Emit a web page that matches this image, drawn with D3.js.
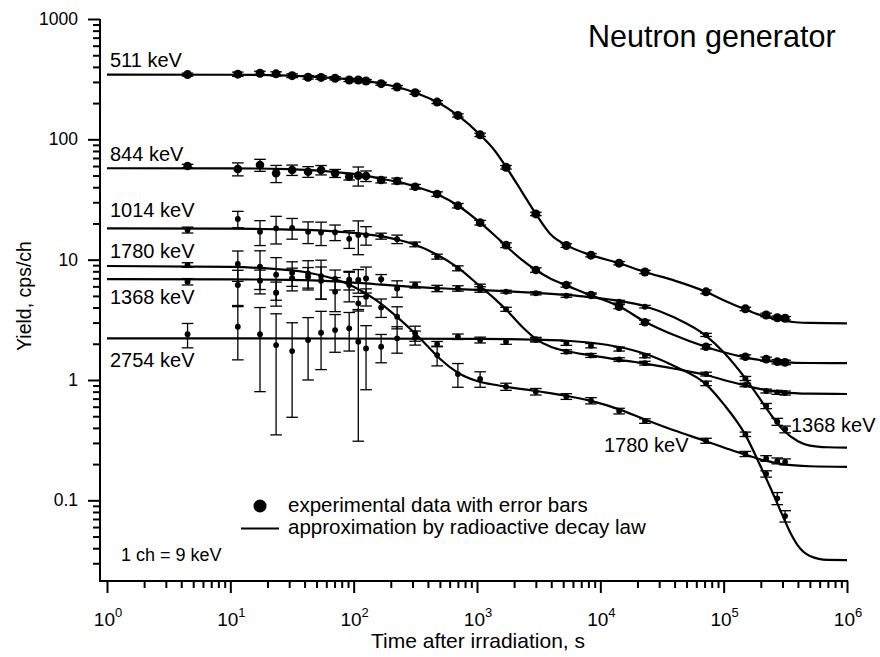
<!DOCTYPE html>
<html>
<head>
<meta charset="utf-8">
<script src="https://cdn.jsdelivr.net/npm/d3@7"></script>
<style>
  html, body { margin: 0; padding: 0; background: #fff; }
  svg text { font-family: "Liberation Sans", Arial, Helvetica, sans-serif; fill: #000; }
</style>
</head>
<body>
<svg id="chart" width="880" height="657"></svg>
<script>
// ---------------- DATA ----------------
const times = [4.5, 11.5, 17.4, 23.5, 31.7, 42.7, 54.4, 70.7, 92, 109, 126, 167, 225, 315, 475, 700, 1060, 1720, 3000, 5300, 8400, 14200, 23000, 72000, 150000, 221000, 272000, 315000];

const y511  = [345, 348, 354, 350, 338, 328, 327, 322, 311, 311, 305, 290, 272, 244, 204, 158, 109, 58.6, 24, 13.1, 10.9, 9.35, 7.9, 5.4, 3.9, 3.47, 3.29, 3.26];
const e511  = [10, 14, 14, 14, 12, 11, 11, 10, 9, 9, 9, 8, 8, 7, 6, 5, 3.5, 2, 0.8, 0.45, 0.35, 0.3, 0.25, 0.2, 0.13, 0.12, 0.11, 0.11];

const y844  = [60.0, 56.7, 61.2, 52.2, 55.6, 53.8, 55.6, 52.2, 48.9, 49.9, 49.6, 45.9, 45.1, 40.4, 35.1, 28.1, 20.3, 13.2, 8.2, 6.16, 5.09, 4.07, 3.02, 1.89, 1.56, 1.49, 1.42, 1.40];
const e844  = [2, 7, 7, 8.5, 5.5, 5.5, 5, 4, 3, 9, 5, 2.5, 2.5, 1.8, 1.5, 1.2, 0.9, 0.6, 0.35, 0.25, 0.2, 0.16, 0.12, 0.08, 0.06, 0.06, 0.06, 0.06];

const y1014 = [17.65, 21.8, 17.1, 18.2, 18.4, 17.1, 16.8, 16.9, 14.9, 16.0, 16.0, 15.7, 14.8, 13.4, 10.6, 8.48, 5.96, 3.87, 2.18, 1.72, 1.6, 1.48, 1.38, 1.12, 0.91, 0.81, 0.79, 0.78];
const e1014 = [1.0, 3.4, 4.0, 4.7, 3.6, 3.5, 3.7, 2.5, 2.5, 5, 2.8, 0.9, 1.2, 0.6, 0.5, 0.4, 0.3, 0.15, 0.08, 0.06, 0.06, 0.05, 0.05, 0.04, 0.03, 0.03, 0.03, 0.03];

const y1780 = [9.03, 9.2, 8.75, 7.5, 7.8, 7.7, 7.3, 5.4, 6.16, 4.34, 4.92, 4.01, 3.36, 2.45, 1.61, 1.12, 1.02, 0.88, 0.80, 0.73, 0.673, 0.552, 0.456, 0.313, 0.243, 0.223, 0.213, 0.209];
const e1780 = [0.4, 2.6, 3.1, 2.9, 1.8, 2.1, 2.6, 1.7, 1.7, 0.6, 0.8, 0.7, 0.7, 0.35, 0.3, 0.25, 0.15, 0.06, 0.05, 0.04, 0.04, 0.03, 0.02, 0.015, 0.012, 0.012, 0.012, 0.012];

const y1368 = [6.56, 6.16, 6.69, 5.31, 7.0, 7.2, 6.69, 6.9, 6.8, 6.77, 6.98, 6.87, 5.77, 6.16, 5.77, 5.77, 5.66, 5.42, 5.25, 5.02, 5.02, 4.48, 4.07, 2.37, 1.03, 0.608, 0.45, 0.389];
const e1368 = [0.4, 2.0, 1.5, 1.2, 1.5, 1.4, 2.0, 1.3, 1.2, 1.5, 1.7, 0.65, 0.9, 0.35, 0.35, 0.3, 0.3, 0.15, 0.15, 0.15, 0.15, 0.12, 0.1, 0.07, 0.04, 0.03, 0.03, 0.025];

const y2754 = [2.40, 2.77, 2.40, 1.95, 1.74, 2.15, 2.47, 2.60, 2.69, 2.08, 1.83, 1.89, 2.22, 2.25, 1.99, 2.29, 2.15, 2.08, 2.15, 2.02, 1.93, 1.81, 1.59, 0.938, 0.354, 0.166, 0.104, 0.074];
const e2754 = [0.55, 1.3, 1.6, 1.6, 1.25, 1.15, 1.25, 0.9, 0.95, 1.77, 1.0, 0.5, 0.55, 0.3, 0.1, 0.12, 0.12, 0.1, 0.08, 0.08, 0.08, 0.07, 0.06, 0.04, 0.015, 0.01, 0.012, 0.008];

// fitted curves (decay-law approximation) as [time, yield]
const fit511  = [[1,345],[10,344],[30,338],[70,323],[126,306],[167,291],[225,272],[315,244],[475,204],[700,158],[1060,109],[1400,80],[1720,59],[2300,37],[3000,24],[4000,16],[5300,13.2],[8400,10.9],[14200,9.35],[23000,7.9],[40000,6.7],[72000,5.4],[100000,4.6],[150000,3.85],[200000,3.45],[300000,3.12],[500000,2.98],[1000000,2.96]];
const fit844  = [[1,57.5],[10,57.4],[30,56.5],[70,53.5],[126,50],[167,47],[225,44.5],[315,40.5],[475,35],[700,28.2],[1060,20.3],[1400,15.8],[1720,13],[2300,10],[3000,8.2],[4000,6.9],[5300,6.1],[8400,5.05],[14200,4.1],[23000,3.05],[40000,2.35],[72000,1.88],[100000,1.7],[150000,1.54],[200000,1.46],[300000,1.41],[500000,1.385],[1000000,1.38]];
const fit1014 = [[1,18.2],[10,18.1],[30,17.8],[70,17.2],[100,16.7],[167,15.6],[225,14.7],[315,13.3],[475,11],[700,8.6],[1060,6],[1400,4.7],[1720,3.85],[2300,2.8],[3000,2.2],[4000,1.88],[5300,1.74],[8400,1.6],[14200,1.47],[23000,1.37],[40000,1.24],[72000,1.1],[100000,1.0],[150000,0.9],[200000,0.84],[300000,0.79],[500000,0.77],[1000000,0.765]];
const fit1780 = [[1,8.86],[10,8.7],[20,8.45],[40,7.9],[70,6.9],[100,5.95],[150,4.65],[200,3.7],[300,2.55],[400,1.9],[500,1.5],[700,1.15],[1000,0.98],[1500,0.9],[3000,0.81],[5300,0.74],[8400,0.67],[14200,0.57],[23000,0.47],[40000,0.38],[72000,0.31],[100000,0.275],[150000,0.24],[200000,0.218],[300000,0.2],[500000,0.192],[1000000,0.19]];
const fit1368 = [[1,6.88],[10,6.87],[30,6.8],[70,6.6],[150,6.25],[300,5.95],[700,5.7],[1500,5.5],[3000,5.3],[5300,5.1],[8400,4.88],[14200,4.55],[23000,4.1],[40000,3.3],[72000,2.33],[100000,1.7],[150000,1.03],[200000,0.68],[250000,0.49],[300000,0.39],[400000,0.31],[500000,0.285],[700000,0.276],[1000000,0.274]];
const fit2754 = [[1,2.22],[1000,2.2],[3000,2.16],[5300,2.12],[8400,2.04],[14200,1.88],[23000,1.65],[40000,1.3],[72000,0.92],[100000,0.63],[150000,0.35],[200000,0.19],[250000,0.115],[300000,0.075],[350000,0.053],[400000,0.042],[500000,0.0345],[700000,0.032],[1000000,0.0319]];

const leftLabels  = ["511 keV", "844 keV", "1014 keV", "1780 keV", "1368 keV", "2754 keV"];
const rightLabels = ["1368 keV", "1780 keV"];
const xMajorTicks = [1, 10, 100, 1000, 10000, 100000, 1000000];
const xTickExps   = ["0", "1", "2", "3", "4", "5", "6"];
const yMajorTicks = [0.1, 1, 10, 100, 1000];
const yTickLabels = ["0.1", "1", "10", "100", "1000"];
const legendTexts = ["experimental data with error bars", "approximation by radioactive decay law"];

// ---------------- CHART ----------------
const svg = d3.select("#chart");
svg.append("rect").attr("width", 880).attr("height", 657).attr("fill", "#fff");

const x = d3.scaleLog().domain([1, 1e6]).range([107, 847]);
const y = d3.scaleLog().domain([0.02136, 1000]).range([581, 19]);
const axisX0 = 100, axisY0 = 581;

// minor ticks
const xMinor = [];
for (let k = 0; k < 6; k++) for (let m = 2; m <= 9; m++) xMinor.push(m * Math.pow(10, k));
const yMinor = [];
for (let k = -2; k < 3; k++) for (let m = 2; m <= 9; m++) {
  const v = m * Math.pow(10, k);
  if (v >= y.domain()[0] && v <= 1000) yMinor.push(v);
}

const axisG = svg.append("g");
// x axis
const xAxisMinor = d3.axisBottom(x).tickValues(xMinor).tickSize(7).tickFormat("");
const xAxisMajor = d3.axisBottom(x).tickValues(xMajorTicks).tickSize(12).tickFormat("");
axisG.append("g").attr("transform", `translate(0,${axisY0})`).call(xAxisMinor)
  .call(g => g.select(".domain").remove()).selectAll("line").attr("stroke-width", 2);
axisG.append("g").attr("transform", `translate(0,${axisY0})`).call(xAxisMajor)
  .call(g => g.select(".domain").remove()).selectAll("line").attr("stroke-width", 2);
// y axis
const yAxisMinor = d3.axisLeft(y).tickValues(yMinor).tickSize(7).tickFormat("");
const yAxisMajor = d3.axisLeft(y).tickValues(yMajorTicks).tickSize(12).tickFormat("");
axisG.append("g").attr("transform", `translate(${axisX0},0)`).call(yAxisMinor)
  .call(g => g.select(".domain").remove()).selectAll("line").attr("stroke-width", 2);
axisG.append("g").attr("transform", `translate(${axisX0},0)`).call(yAxisMajor)
  .call(g => g.select(".domain").remove()).selectAll("line").attr("stroke-width", 2);
// axis lines
axisG.append("line").attr("x1", axisX0).attr("x2", x(1e6) + 1).attr("y1", axisY0).attr("y2", axisY0)
  .attr("stroke", "#000").attr("stroke-width", 2);
axisG.append("line").attr("x1", axisX0).attr("x2", axisX0).attr("y1", y(1000)).attr("y2", axisY0 + 1)
  .attr("stroke", "#000").attr("stroke-width", 2);

// x tick labels with superscripts
xMajorTicks.forEach((t, i) => {
  const tx = axisG.append("text").attr("x", x(t) + 1).attr("y", 626)
    .attr("text-anchor", "middle").style("font-size", "19px");
  tx.append("tspan").text("10");
  tx.append("tspan").attr("dy", -9).style("font-size", "13px").text(xTickExps[i]);
});
// y tick labels
yMajorTicks.forEach((v, i) => {
  axisG.append("text").attr("x", 78).attr("y", y(v)).attr("dy", "0.35em")
    .attr("text-anchor", "end").style("font-size", "17.5px").text(yTickLabels[i]);
});
// axis titles
svg.append("text").attr("x", 478).attr("y", 648).attr("text-anchor", "middle")
  .style("font-size", "21px").text("Time after irradiation, s");
svg.append("text").attr("transform", "translate(31,296) rotate(-90)").attr("text-anchor", "middle")
  .style("font-size", "19.5px").text("Yield, cps/ch");

// fitted curves
const line = d3.line().x(d => x(d[0])).y(d => y(d[1])).curve(d3.curveMonotoneX);
const fits = [fit511, fit844, fit1014, fit1780, fit1368, fit2754];
svg.append("g").selectAll("path").data(fits).join("path")
  .attr("d", line).attr("fill", "none").attr("stroke", "#000").attr("stroke-width", 2.2);

// data with error bars
const series = [
  { v: y511,  e: e511,  r: 4.5 },
  { v: y844,  e: e844,  r: 4.3 },
  { v: y1014, e: e1014, r: 2.9 },
  { v: y1780, e: e1780, r: 2.9 },
  { v: y1368, e: e1368, r: 3.0 },
  { v: y2754, e: e2754, r: 2.9 }
];
const cap = 5.8;
const dataG = svg.append("g");
series.forEach(s => {
  const pts = times.map((t, i) => ({ t, v: s.v[i], e: s.e[i] }));
  const g = dataG.append("g");
  pts.forEach(p => {
    const lo = Math.max(p.v - p.e, y.domain()[0]);
    const yTop = y(p.v + p.e), yBot = y(lo), xc = x(p.t);
    g.append("line").attr("x1", xc).attr("x2", xc).attr("y1", yTop).attr("y2", yBot)
      .attr("stroke", "#000").attr("stroke-width", 1.3);
    [yTop, yBot].forEach(yy => g.append("line").attr("x1", xc - cap).attr("x2", xc + cap)
      .attr("y1", yy).attr("y2", yy).attr("stroke", "#000").attr("stroke-width", 1.3));
  });
  g.selectAll("circle").data(pts).join("circle")
    .attr("cx", d => x(d.t)).attr("cy", d => y(d.v)).attr("r", s.r).attr("fill", "#000");
});

// series labels
const leftPos = [[110, 67], [110, 160.5], [110, 217], [110, 258], [110, 304], [110, 366.7]];
leftLabels.forEach((t, i) => svg.append("text").attr("x", leftPos[i][0]).attr("y", leftPos[i][1])
  .style("font-size", "20px").text(t));
const rightPos = [[791, 432], [604, 452]];
rightLabels.forEach((t, i) => svg.append("text").attr("x", rightPos[i][0]).attr("y", rightPos[i][1])
  .style("font-size", "20px").text(t));

// title
svg.append("text").attr("x", 588).attr("y", 47).style("font-size", "30.5px").text("Neutron generator");

// legend
svg.append("circle").attr("cx", 260).attr("cy", 506).attr("r", 6.5).attr("fill", "#000");
svg.append("line").attr("x1", 241).attr("x2", 279).attr("y1", 528.5).attr("y2", 528.5)
  .attr("stroke", "#000").attr("stroke-width", 2.2);
svg.append("text").attr("x", 288).attr("y", 512).style("font-size", "20.5px").text(legendTexts[0]);
svg.append("text").attr("x", 288).attr("y", 534).style("font-size", "20.5px").text(legendTexts[1]);
svg.append("text").attr("x", 121).attr("y", 561).style("font-size", "18px").text("1 ch = 9 keV");
</script>
</body>
</html>
